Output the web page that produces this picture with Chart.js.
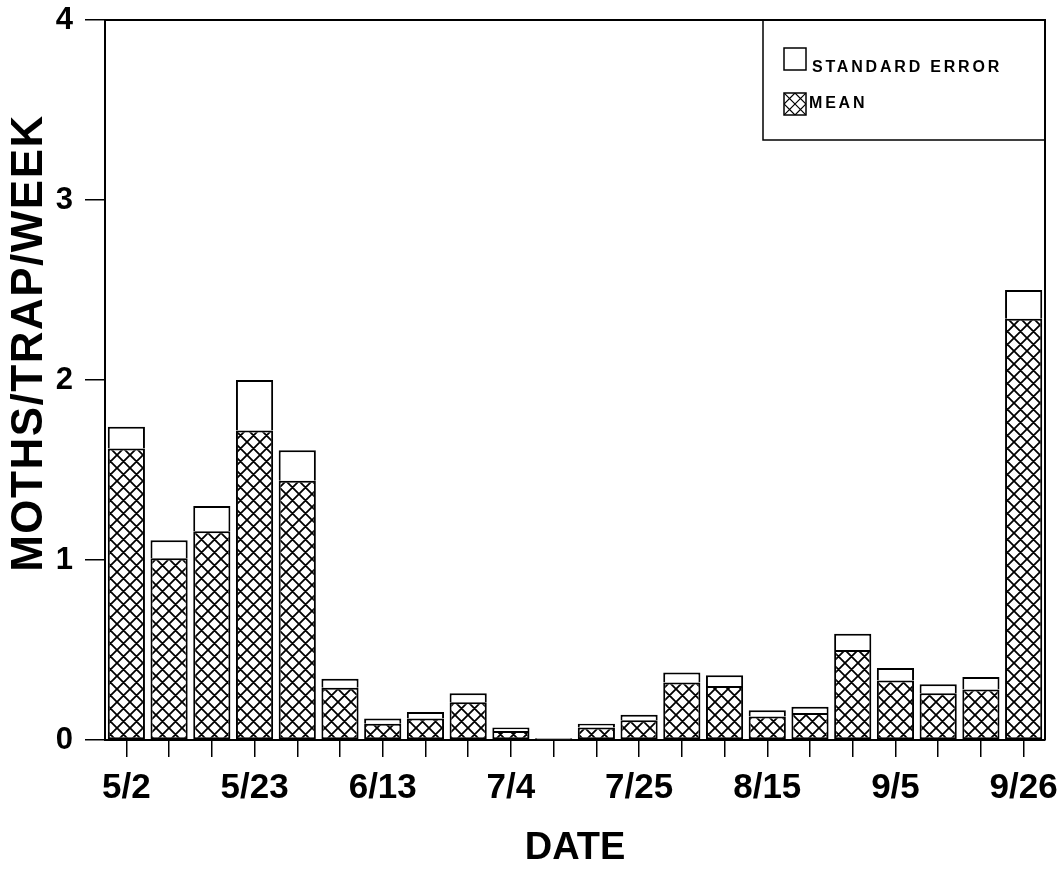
<!DOCTYPE html>
<html>
<head>
<meta charset="utf-8">
<script src="https://cdn.jsdelivr.net/npm/chart.js@4/dist/chart.umd.min.js"></script>
<style>
  html, body { margin: 0; padding: 0; background: #fff; }
  #wrap { width: 1064px; height: 876px; }
</style>
</head>
<body>
<div id="wrap"><canvas id="c" width="1064" height="876"></canvas></div>
<script>
// Weekly trap dates
const weekLabels = ['5/2','5/9','5/16','5/23','5/30','6/6','6/13','6/20','6/27','7/4','7/11',
                    '7/18','7/25','8/1','8/8','8/15','8/22','8/29','9/5','9/12','9/19','9/26'];
// Mean moths per trap per week
const meanValues = [1.62, 1.01, 1.16, 1.72, 1.44, 0.29, 0.09, 0.12, 0.21, 0.05, 0.00,
                    0.07, 0.11, 0.32, 0.30, 0.13, 0.15, 0.50, 0.33, 0.26, 0.28, 2.34];
// Standard error stacked on top of each mean
const stdErrorValues = [0.12, 0.10, 0.14, 0.28, 0.17, 0.05, 0.03, 0.035, 0.05, 0.02, 0.01,
                        0.02, 0.03, 0.055, 0.06, 0.035, 0.035, 0.09, 0.07, 0.05, 0.07, 0.16];
const yTickValues = [0, 1, 2, 3, 4];
const labelEvery = 3;
const yTitle = 'MOTHS/TRAP/WEEK';
const xTitle = 'DATE';
const seriesNames = { se: 'STANDARD ERROR', mean: 'MEAN' };

const FONT = '"Liberation Sans", Arial, Helvetica, sans-serif';
const canvas = document.getElementById('c');
const ctx = canvas.getContext('2d');

// Diagonal cross-hatch fill for the mean bars
function crossHatch(size, lw) {
  const tile = document.createElement('canvas');
  tile.width = tile.height = size;
  const g = tile.getContext('2d');
  g.fillStyle = '#fff';
  g.fillRect(0, 0, size, size);
  g.strokeStyle = '#000';
  g.lineWidth = lw;
  g.beginPath();
  for (const k of [-1, 0, 1]) {
    g.moveTo(k * size, 0); g.lineTo(k * size + size, size);
    g.moveTo(k * size + size, 0); g.lineTo(k * size, size);
  }
  g.stroke();
  return ctx.createPattern(tile, 'repeat');
}
const hatch = crossHatch(13, 1.8);

// Frame, legend box and rotated y title
const decorations = {
  id: 'decorations',
  afterDraw(chart) {
    const c = chart.ctx;
    const a = chart.chartArea;
    c.save();
    c.strokeStyle = '#000';
    c.lineWidth = 2;
    c.beginPath();
    c.moveTo(a.left, a.top); c.lineTo(a.right, a.top); c.lineTo(a.right, a.bottom);
    c.stroke();

    // legend box in the upper-right corner
    const bw = 282, bh = 120;
    const bx = a.right - bw, by = a.top;
    c.lineWidth = 1.5;
    c.strokeRect(bx, by, bw, bh);

    c.font = 'bold 16px ' + FONT;
    c.letterSpacing = '2.8px';
    c.fillStyle = '#000';
    c.textBaseline = 'alphabetic';
    c.textAlign = 'left';

    // standard error swatch
    c.fillStyle = '#fff';
    c.fillRect(bx + 21, by + 28, 22, 22);
    c.lineWidth = 1.5;
    c.strokeRect(bx + 21, by + 28, 22, 22);
    c.fillStyle = '#000';
    c.fillText(seriesNames.se, bx + 49, by + 52);

    // mean swatch
    const mx = bx + 21, my = by + 73, ms = 22;
    c.save();
    c.beginPath(); c.rect(mx, my, ms, ms); c.clip();
    c.lineWidth = 1.2;
    c.beginPath();
    c.moveTo(mx, my); c.lineTo(mx + ms, my + ms);
    c.moveTo(mx + ms, my); c.lineTo(mx, my + ms);
    c.moveTo(mx + ms / 2, my); c.lineTo(mx + ms, my + ms / 2);
    c.lineTo(mx + ms / 2, my + ms); c.lineTo(mx, my + ms / 2); c.closePath();
    c.stroke();
    c.restore();
    c.lineWidth = 1.5;
    c.strokeRect(mx, my, ms, ms);
    c.fillText(seriesNames.mean, bx + 46, by + 88);

    // y axis title
    c.letterSpacing = '1.5px';
    c.font = 'bold 44px ' + FONT;
    c.textAlign = 'center';
    c.textBaseline = 'middle';
    c.translate(30, (a.top + a.bottom) / 2 - 37);
    c.rotate(-Math.PI / 2);
    c.fillText(yTitle, 0, 0);
    c.restore();
  }
};

new Chart(canvas, {
  type: 'bar',
  data: {
    labels: weekLabels,
    datasets: [
      {
        label: seriesNames.mean,
        data: meanValues,
        backgroundColor: hatch,
        borderColor: '#000',
        borderWidth: 2,
        borderSkipped: false,
        stack: 's'
      },
      {
        label: seriesNames.se,
        data: stdErrorValues,
        backgroundColor: '#fff',
        borderColor: '#000',
        borderWidth: { top: 2, left: 2, right: 2, bottom: 0 },
        borderSkipped: false,
        stack: 's'
      }
    ]
  },
  options: {
    responsive: false,
    animation: false,
    devicePixelRatio: 1,
    layout: { padding: { top: 20, right: 19, bottom: 0, left: 0 } },
    datasets: { bar: { barPercentage: 0.87, categoryPercentage: 1.0 } },
    plugins: { legend: { display: false }, tooltip: { enabled: false } },
    scales: {
      x: {
        stacked: true,
        offset: true,
        grid: { offset: false, drawOnChartArea: false, drawTicks: true, tickLength: 17, color: '#000', lineWidth: 1.5 },
        border: { color: '#000', width: 2 },
        ticks: {
          autoSkip: false, maxRotation: 0, minRotation: 0,
          color: '#000', padding: 10,
          font: { family: FONT, size: 35, weight: 'bold' },
          callback: (v, i) => (i % labelEvery === 0 ? weekLabels[i] : '')
        },
        title: {
          display: true, text: xTitle, color: '#000',
          font: { family: FONT, size: 38, weight: 'bold' },
          padding: { top: 0, bottom: 5 }
        },
        afterFit: (s) => { s.height = 136; s.paddingLeft = 0; s.paddingRight = 0; }
      },
      y: {
        stacked: true,
        min: 0, max: 4,
        afterBuildTicks: (s) => { s.ticks = yTickValues.map(v => ({ value: v })); },
        grid: { drawOnChartArea: false, drawTicks: true, tickLength: 20, color: '#000', lineWidth: 1.5 },
        border: { color: '#000', width: 2 },
        ticks: {
          color: '#000', padding: 12,
          font: { family: FONT, size: 31, weight: 'bold' }
        },
        afterFit: (s) => { s.width = 105; s.paddingTop = 0; s.paddingBottom = 0; }
      }
    }
  },
  plugins: [decorations]
});
</script>
</body>
</html>
